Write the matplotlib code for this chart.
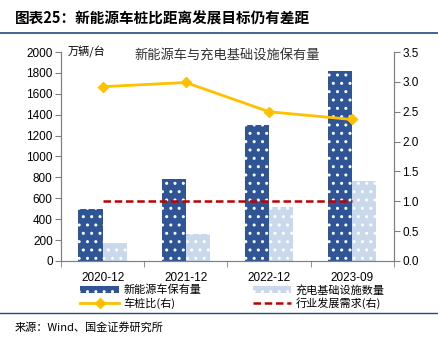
import matplotlib.pyplot as plt
import numpy as np

plt.rcParams['font.family'] = ['Liberation Sans', 'Noto Sans CJK SC', 'DejaVu Sans']
plt.rcParams['hatch.linewidth'] = 1.0

cats = ['2020-12', '2021-12', '2022-12', '2023-09']
ev_stock = [495, 785, 1305, 1820]      # 新能源车保有量 (万辆)
chargers = [170, 262, 520, 765]        # 充电基础设施数量 (万台)
ratio = [2.92, 2.99, 2.50, 2.37]       # 车桩比
target = [1.0, 1.0, 1.0, 1.0]          # 行业发展需求

cjk = ['Noto Sans CJK SC', 'DejaVu Sans']
dark = '#2F5597'
light = '#C9D9EB'
yellow = '#FFC000'
red = '#C00000'
blue_line = '#1F4E79'

fig = plt.figure(figsize=(4.39, 3.38), dpi=100)
ax = fig.add_axes([0.139, 0.228, 0.758, 0.618])
ax2 = ax.twinx()

x = np.arange(len(cats))
w = 0.29
b1 = ax.bar(x - w / 2, ev_stock, w, color=dark, edgecolor='white', lw=0, hatch='..')
b2 = ax.bar(x + w / 2, chargers, w, color=light, edgecolor='white', lw=0, hatch='..')

l1, = ax2.plot(x, ratio, color=yellow, lw=2, marker='D', ms=5)
l2, = ax2.plot(x, target, color=red, lw=1.8, ls=(0, (3, 1.5)))

ax.set_xlim(-0.5, 3.5)
ax.set_ylim(0, 2000)
ax.set_yticks(range(0, 2001, 200))
ax2.set_ylim(0, 3.5)
ax2.set_yticks(np.arange(0, 3.51, 0.5))
ax2.set_yticklabels([f'{v:.1f}' for v in np.arange(0, 3.51, 0.5)])

ax.set_xticks(x)
ax.set_xticklabels(cats)
ax.set_xticks(np.arange(-0.5, 3.6, 1), minor=True)
ax.tick_params(axis='x', which='major', length=0, pad=8, labelsize=8.5)
ax.tick_params(axis='x', which='minor', length=4, color='#808080')
ax.tick_params(axis='y', length=4, color='#808080', labelsize=8.5, pad=2)
ax2.tick_params(axis='y', length=4, color='#808080', labelsize=8.5, pad=2)

for a in (ax, ax2):
    a.spines['top'].set_visible(False)
    for s in ('left', 'right', 'bottom'):
        a.spines[s].set_color('#808080')

ax.text(0.02, 1.0, '万辆/台', transform=ax.transAxes, fontsize=8,
        family=cjk, va='center', ha='left')
ax.text(0.5, 0.985, '新能源车与充电基础设施保有量', transform=ax.transAxes,
        fontsize=9.5, family=cjk, va='center', ha='center', color='#333333')

# ncol=2 fills column by column, so pass handles in column order
fig.legend([b1, l1, b2, l2],
           ['新能源车保有量', '车桩比(右)', '充电基础设施数量', '行业发展需求(右)'],
           ncol=2, loc='upper left', bbox_to_anchor=(0.17, 0.175),
           frameon=False, prop={'family': cjk, 'size': 8},
           handlelength=3.5, handleheight=0.7, columnspacing=4.6,
           labelspacing=0.15, handletextpad=0.4, borderpad=0)

fig.text(0.034, 0.945, '图表25：新能源车桩比距离发展目标仍有差距', fontsize=10.5,
         family=cjk, fontweight='bold', va='center')
fig.add_artist(plt.Line2D([0, 1], [0.902, 0.902], color=blue_line, lw=1.2))
fig.add_artist(plt.Line2D([0, 1], [0.075, 0.075], color=blue_line, lw=1.0))
fig.text(0.034, 0.032, '来源：Wind、国金证券研究所', fontsize=8, family=cjk, va='center')

fig.savefig('out.png', dpi=100)
